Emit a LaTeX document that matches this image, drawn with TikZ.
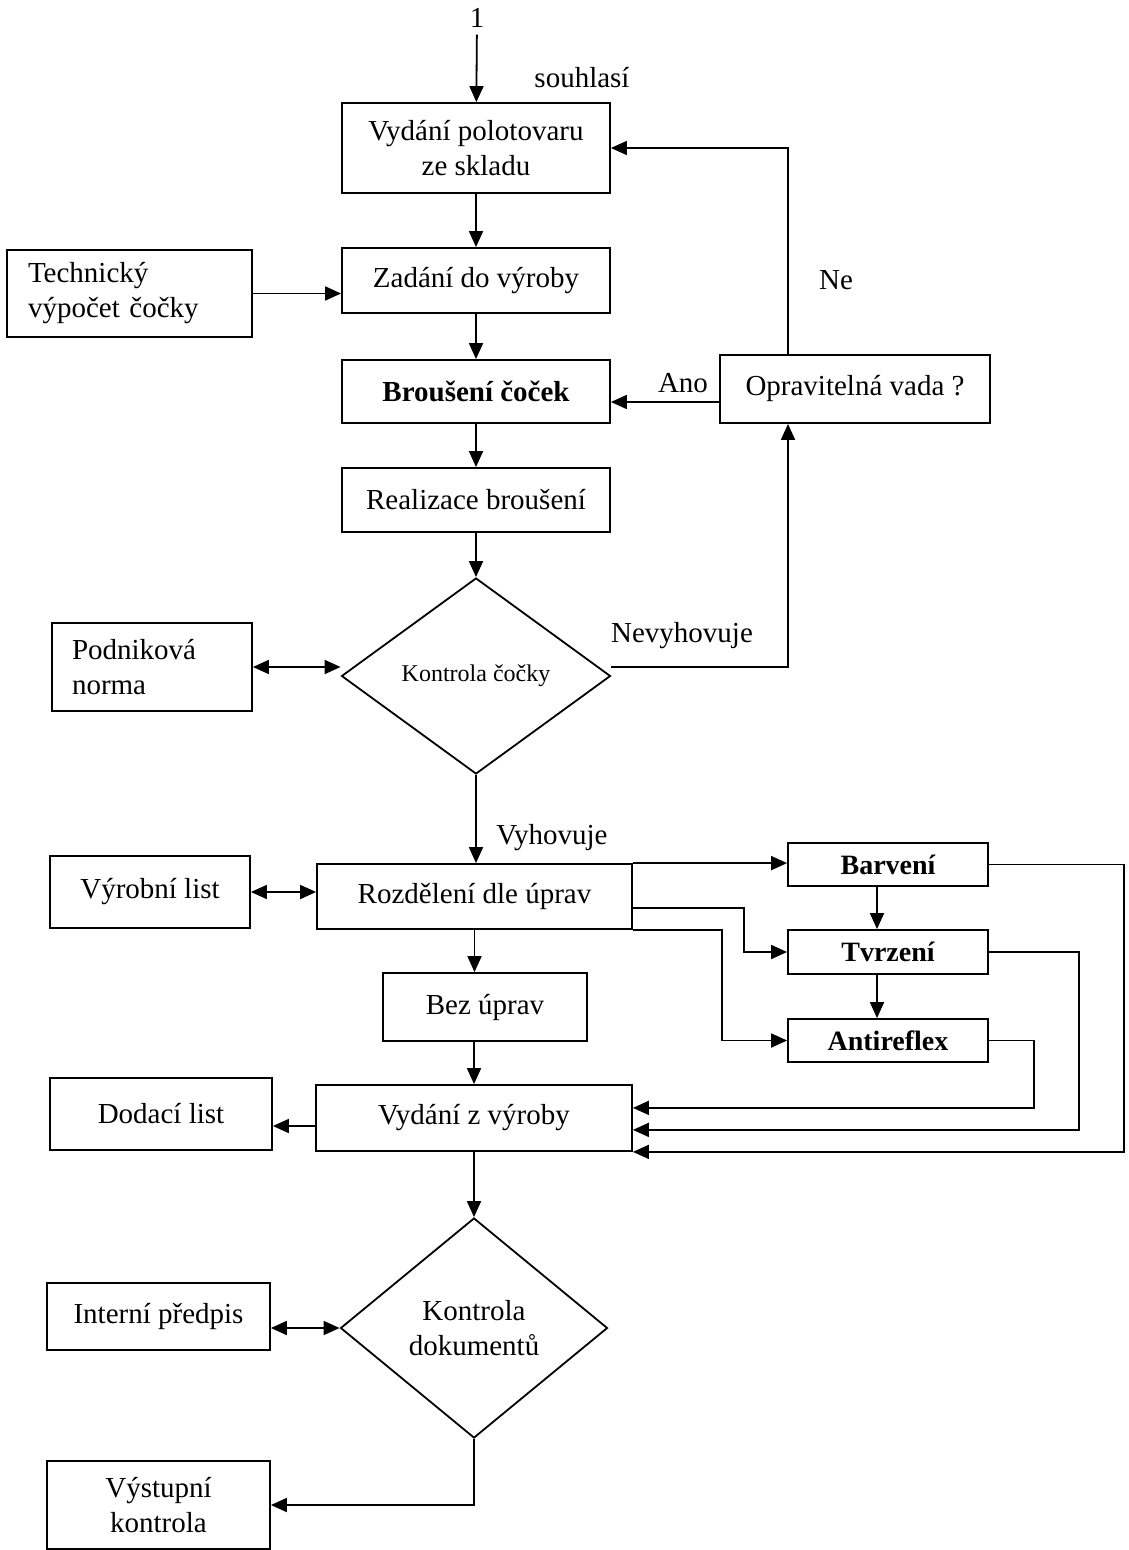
\documentclass[tikz,border=0pt]{standalone}
\usepackage{fontspec}
\setmainfont{Liberation Serif}
\usetikzlibrary{arrows.meta,shapes.geometric}

\begin{document}
\begin{tikzpicture}[x=0.5pt,y=-0.5pt,
    every node/.style={font=\fontsize{14.5}{17.5}\selectfont},
    box/.style={draw,line width=0.9pt,inner sep=0pt,align=center},
    dec/.style={diamond,draw,line width=0.9pt,inner sep=0pt,align=center},
    arr/.style={line width=0.9pt,-{Triangle[length=8pt,width=7pt]}},
    darr/.style={line width=0.9pt,{Triangle[length=8pt,width=7pt]}-{Triangle[length=8pt,width=7pt]}}]
    \useasboundingbox (0,0) rectangle (1128,1550);
    % main column
    \node (start) at (477,18) {1};
    \node (souhlasi) at (582,78) {souhlasí};
    \node[box,minimum width=134pt,minimum height=45pt] (vydani) at (476,148) {Vydání polotovaru\\ze skladu};
    \node[box,minimum width=134pt,minimum height=32.5pt] (zadani) at (476,280.5) {Zadání do výroby};
    \node[box,minimum width=122.5pt,minimum height=43.5pt,text width=101.5pt,align=left] (tech) at (129.5,293.5) {Technický\\výpočet čočky};
    \node[box,minimum width=134pt,minimum height=31.5pt,font=\fontsize{14.5}{17.5}\selectfont\bfseries] (brouseni) at (476,391.5) {Broušení čoček};
    \node[box,minimum width=135pt,minimum height=34pt] (oprav) at (855,389) {Opravitelná vada ?};
    \node[box,minimum width=134pt,minimum height=32pt] (realizace) at (476,500) {Realizace broušení};
    \node[dec,minimum width=134.5pt,minimum height=98pt,font=\fontsize{12}{14}\selectfont] (kontrola1) at (476,676) {Kontrola čočky};
    \node[box,minimum width=100pt,minimum height=44pt,text width=80pt,align=left] (podnik) at (152,667) {Podniková\\norma};
    \node (ne) at (836,280) {Ne};
    \node (ano) at (683,383) {Ano};
    \node (nevyh) at (682,636) {Nevyhovuje};
    \node (vyh) at (552,838) {Vyhovuje};
    % treatments
    \node[box,minimum width=157.5pt,minimum height=32.5pt] (rozdeleni) at (474.5,896.5) {Rozdělení dle úprav};
    \node[box,minimum width=100pt,minimum height=36pt] (vyrlist) at (150,892) {Výrobní list};
    \node[box,minimum width=100pt,minimum height=21.5pt,font=\fontsize{14}{17}\selectfont\bfseries] (barveni) at (888,864.5) {Barvení};
    \node[box,minimum width=100pt,minimum height=22pt,font=\fontsize{14}{17}\selectfont\bfseries] (tvrzeni) at (888,952) {Tvrzení};
    \node[box,minimum width=100pt,minimum height=21.5pt,font=\fontsize{14}{17}\selectfont\bfseries] (antireflex) at (888,1040.5) {Antireflex};
    \node[box,minimum width=102pt,minimum height=34pt] (bez) at (485,1007) {Bez úprav};
    \node[box,minimum width=158pt,minimum height=33pt] (vydvyr) at (474,1118) {Vydání z výroby};
    \node[box,minimum width=111pt,minimum height=36pt] (dodaci) at (161,1114) {Dodací list};
    \node[dec,minimum width=133.5pt,minimum height=110pt] (kontrola2) at (474,1328) {Kontrola\\dokumentů};
    \node[box,minimum width=111.5pt,minimum height=33.5pt] (interni) at (158.5,1316.5) {Interní předpis};
    \node[box,minimum width=111.5pt,minimum height=44pt] (vystup) at (158.5,1505) {Výstupní\\kontrola};

    \draw[arr] (start) -- (vydani);
    \draw[arr] (vydani) -- (zadani);
    \draw[arr] (tech) -- (tech -| zadani.west);
    \draw[arr] (zadani) -- (brouseni);
    \draw[arr] (brouseni) -- (realizace);
    \draw[arr] (realizace) -- (kontrola1);
    \draw[arr] ([yshift=-6.5pt]oprav.west) -- ([yshift=-6.5pt]oprav.west -| brouseni.east);
    \draw[arr] ([xshift=-33.5pt]oprav.north) |- (vydani.east);
    \draw[arr] ([yshift=4.5pt]kontrola1.east) -| ([xshift=-33.5pt]oprav.south);
    \draw[darr] (podnik) -- (podnik -| kontrola1.west);
    \draw[arr] (kontrola1.south) -- (kontrola1.south |- rozdeleni.north);
    \draw[darr] (vyrlist) -- (vyrlist -| rozdeleni.west);
    \draw[arr] (rozdeleni.north east) -- (rozdeleni.north east -| barveni.west);
    \draw[arr] ([yshift=-5.75pt]rozdeleni.east) -- ++(55.5pt,0) |- (tvrzeni.west);
    \draw[arr] (rozdeleni.south east) -- ++(44.5pt,0) |- (antireflex.west);
    \draw[arr] ([xshift=-5.5pt]barveni.south) -- ([xshift=-5.5pt]tvrzeni.north);
    \draw[arr] ([xshift=-5.5pt]tvrzeni.south) -- ([xshift=-5.5pt]antireflex.north);
    \draw[arr] (rozdeleni.south) -- (rozdeleni.south |- bez.north);
    \draw[arr] (vydvyr.north |- bez.south) -- (vydvyr.north);
    \draw[arr] (barveni.east) -- ++(67.5pt,0) |- (vydvyr.south east);
    \draw[arr] (tvrzeni.east) -- ++(45pt,0) |- ([yshift=11pt]vydvyr.south east);
    \draw[arr] (antireflex.east) -- ++(22.5pt,0) |- ([yshift=22pt]vydvyr.south east);
    \draw[arr] ([yshift=-4pt]vydvyr.west) -- ([yshift=-4pt]vydvyr.west -| dodaci.east);
    \draw[arr] (vydvyr) -- (kontrola2);
    \draw[darr] (kontrola2.west) -- (kontrola2.west -| interni.east);
    \draw[arr] (kontrola2.south) |- (vystup.east);
\end{tikzpicture}
\end{document}
